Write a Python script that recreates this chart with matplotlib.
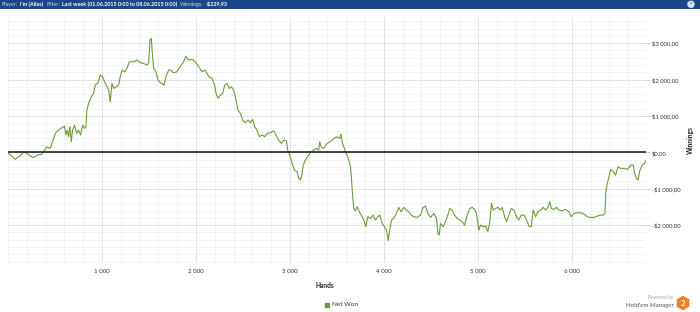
import matplotlib
matplotlib.use("Agg")
import matplotlib.pyplot as plt
from matplotlib.ticker import FuncFormatter, MultipleLocator
from matplotlib.patches import Rectangle, RegularPolygon, Ellipse

plt.rcParams['font.family'] = ['Lato', 'DejaVu Sans']

hands = [0, 6, 41, 77, 112, 148, 165, 201, 236, 272, 307, 361, 389, 414, 449, 474,
         503, 538, 581, 602, 616, 630, 645, 659, 673, 687, 708, 730, 751, 772, 794,
         815, 829, 840, 858, 886, 911, 929, 957, 982, 1007, 1028, 1053, 1071, 1088,
         1106, 1127, 1152, 1177, 1195, 1213, 1241, 1266, 1291, 1337, 1372, 1408, 1443,
         1479, 1497, 1511, 1525, 1539, 1550, 1575, 1596, 1631, 1660, 1681, 1710,
         1727, 1763, 1798, 1834, 1869, 1894, 1922, 1958, 1994, 2029, 2065, 2100, 2136,
         2171, 2199, 2214, 2235, 2260, 2285, 2306, 2331, 2356, 2377, 2402, 2427, 2448,
         2473, 2498, 2526, 2554, 2579, 2604, 2625, 2650, 2675, 2704, 2732, 2757, 2792,
         2828, 2853, 2881, 2909, 2935, 2963, 2977, 2998, 3023, 3048, 3077, 3094, 3112,
         3130, 3140, 3155, 3176, 3201, 3226, 3254, 3282, 3307, 3318, 3332, 3361, 3396,
         3432, 3467, 3503, 3531, 3545, 3559, 3574, 3591, 3609, 3627, 3645, 3655, 3666,
         3680, 3698, 3716, 3744, 3769, 3787, 3808, 3829, 3858, 3886, 3911, 3936, 3957,
         3982, 4007, 4028, 4046, 4063, 4081, 4106, 4134, 4159, 4184, 4213, 4241, 4266,
         4291, 4319, 4355, 4390, 4418, 4443, 4468, 4497, 4532, 4560, 4575, 4589, 4603,
         4631, 4656, 4681, 4702, 4727, 4752, 4781, 4809, 4834, 4859, 4887, 4915, 4940,
         4965, 4986, 5011, 5029, 5057, 5082, 5107, 5128, 5146, 5164, 5189, 5214, 5235,
         5260, 5285, 5306, 5331, 5356, 5384, 5412, 5437, 5462, 5491, 5519, 5544, 5569,
         5590, 5615, 5640, 5668, 5696, 5721, 5746, 5767, 5782, 5810, 5838, 5863, 5899,
         5934, 5970, 5995, 6023, 6059, 6094, 6130, 6165, 6201, 6236, 6272, 6307, 6335,
         6353, 6364, 6378, 6396, 6414, 6442, 6467, 6492, 6520, 6556, 6591, 6627, 6655,
         6669, 6690, 6705, 6726, 6751, 6775, 6790]

net_won = [0, -28, -101, -193, -120, -46, 18, -28, -101, -138, -83, -46, 63, 155, 109, 292,
           521, 613, 686, 723, 476, 613, 430, 704, 292, 613, 750, 521, 613, 476, 750,
           659, 704, 1162, 1345, 1529, 1620, 1849, 1913, 2124, 2078, 1941, 1803, 1712, 1391,
           1895, 1758, 1803, 1849, 2078, 2261, 2215, 2307, 2490, 2490, 2536, 2463, 2444,
           2399, 2463, 3085, 3131, 2627, 2307, 2215, 1986, 1895, 1849, 2078, 2261,
           2261, 2188, 2215, 2353, 2490, 2646, 2536, 2554, 2490, 2353, 2215, 2261, 2078,
           2032, 1849, 1620, 1483, 1574, 1620, 1849, 1895, 1758, 1803, 1712, 1437, 1162,
           1071, 888, 814, 888, 814, 906, 704, 613, 430, 476, 430, 521, 540,
           595, 476, 338, 247, 338, 319, 63, -74, -303, -487, -532, -716, -761,
           -578, -395, -258, -166, -74, 17, 63, 109, 63, 292, 154, 109, 246,
           292, 383, 429, 383, 502, 246, 154, 17, -74, -212, -395, -716, -1128,
           -1540, -1604, -1494, -1659, -1769, -1860, -2043, -1769, -1815, -1723, -1860, -1769, -1723,
           -1952, -2043, -2135, -2420, -2135, -1860, -1815, -1677, -1512, -1631, -1512, -1586, -1631,
           -1723, -1769, -1787, -1723, -1512, -1476, -1677, -1787, -1677, -1815, -2226, -2272, -1952,
           -2043, -1906, -1723, -1540, -1586, -1723, -1815, -1860, -1906, -1998, -1723, -1540, -1512,
           -1567, -1677, -2135, -1998, -2043, -2025, -2181, -1906, -1402, -1586, -1540, -1512, -1586,
           -1512, -1769, -1906, -1723, -1540, -1586, -1769, -1860, -1723, -1723, -1860, -2025, -2043,
           -1586, -1769, -1631, -1586, -1512, -1586, -1512, -1357, -1540, -1567, -1512, -1586, -1604,
           -1567, -1631, -1769, -1677, -1659, -1659, -1695, -1769, -1787, -1787, -1750, -1723, -1723,
           -1677, -1036, -853, -670, -468, -532, -624, -395, -441, -441, -468, -349, -349,
           -578, -716, -761, -487, -349, -303, -230]

x_ticks = [1000, 2000, 3000, 4000, 5000, 6000]
y_ticks = [-2000, -1000, 0, 1000, 2000, 3000]

W, H = 700, 312
fig = plt.figure(figsize=(7.0, 3.12), dpi=100)
fig.patch.set_facecolor('white')

# header bar
hdr = fig.add_axes([0, 1 - 8.5 / H, 1, 8.5 / H])
hdr.set_axis_off()
hdr.add_patch(Rectangle((0, 0), 1, 1, transform=hdr.transAxes, color='#1b4689'))
fs_h = 3.9
parts = [("Player:", 'normal', '#c9d6ea', 1.5), ("I'm (Alias)", 'bold', 'white', 3.5),
         ("Filter:", 'normal', '#c9d6ea', 1.5),
         ("Last week (01.06.2015 0:00 to 08.06.2015 0:00)", 'bold', 'white', 3.5),
         ("Winnings:", 'normal', '#c9d6ea', 1.5), ("-$229,93", 'bold', 'white', 0)]
renderer = fig.canvas.get_renderer()
px = 2.0
for t, w, c, gap in parts:
    txt = fig.text(px / W, 1 - 4.4 / H, t, fontsize=fs_h, fontweight=w, color=c,
                   va='center', ha='left')
    bb = txt.get_window_extent(renderer=renderer)
    px = bb.x1 + gap
fig.add_artist(Ellipse((691 / W, 1 - 4.3 / H), 6 / W, 6 / H, transform=fig.transFigure,
                       color='#d8e4f4'))
fig.text(691 / W, 1 - 4.3 / H, "?", fontsize=3, fontweight='bold', color='#1b4689',
         ha='center', va='center')

# main axes
left, right, top, bottom = 8, 646, 17, 263
ax = fig.add_axes([left / W, 1 - bottom / H, (right - left) / W, (bottom - top) / H])
ax.plot(hands, net_won, color='#6b9d3c', lw=0.8, zorder=3)
ax.axhline(0, color='#222222', lw=1.2, zorder=4)
ax.set_xlim(0, 6790)
ax.set_ylim(-3040, 3720)
ax.set_xticks(x_ticks)
ax.set_yticks(y_ticks)
ax.xaxis.set_minor_locator(MultipleLocator(200))
ax.yaxis.set_minor_locator(MultipleLocator(200))
ax.grid(which='major', color='#dcdcdc', lw=0.6)
ax.grid(which='minor', color='#efefef', lw=0.5)
ax.set_axisbelow(True)
for s in ax.spines.values():
    s.set_visible(False)
ax.yaxis.tick_right()
ax.yaxis.set_label_position('right')


def fmt_money(v, pos=None):
    s = f"{abs(int(round(v))):,}".replace(",", " ")
    return ("-" if v < 0 else "") + "$" + s + ",00"


def fmt_hands(v, pos=None):
    return f"{int(v):,}".replace(",", " ")


ax.yaxis.set_major_formatter(FuncFormatter(fmt_money))
ax.xaxis.set_major_formatter(FuncFormatter(fmt_hands))
ax.tick_params(axis='y', which='major', length=3, color='#cccccc', labelsize=4.2, pad=1,
               labelcolor='#333333')
ax.tick_params(axis='x', which='major', length=0, labelsize=4.4, pad=4, labelcolor='#333333')
ax.tick_params(which='minor', length=0)
ax.set_xlabel("Hands", fontsize=4.8, fontweight='bold', color='#222222')
ax.set_ylabel("Winnings", fontsize=4.8, fontweight='bold', color='#222222')
ax.xaxis.set_label_coords((325 - left) / (right - left), -(282 - bottom) / (bottom - top))
ax.yaxis.set_label_coords((687 - left) / (right - left), (bottom - 140) / (bottom - top))

# legend
fig.add_artist(Rectangle((325 / W, 1 - 307 / H), 4 / W, 4 / H, transform=fig.transFigure,
                         color='#6b9d3c'))
fig.text(332 / W, 1 - 305 / H, "Net Won", fontsize=4.6, color='#333333', va='center', ha='left')

# powered by
fig.text(673 / W, 1 - 298 / H, "Powered by", fontsize=3.4, color='#aaaaaa', ha='right', va='center')
fig.text(674 / W, 1 - 305 / H, "Hold'em Manager", fontsize=4.4, color='#555555', ha='right', va='center')
fig.add_artist(RegularPolygon((6.83, (H - 303) / 100), numVertices=6, radius=0.065,
                              orientation=0, transform=fig.dpi_scale_trans, color='#f07f2a'))
fig.text(683 / W, 1 - 303 / H, "2", fontsize=5.5, fontweight='bold', color='white',
         ha='center', va='center')

fig.savefig("out.png", dpi=100, facecolor='white')
